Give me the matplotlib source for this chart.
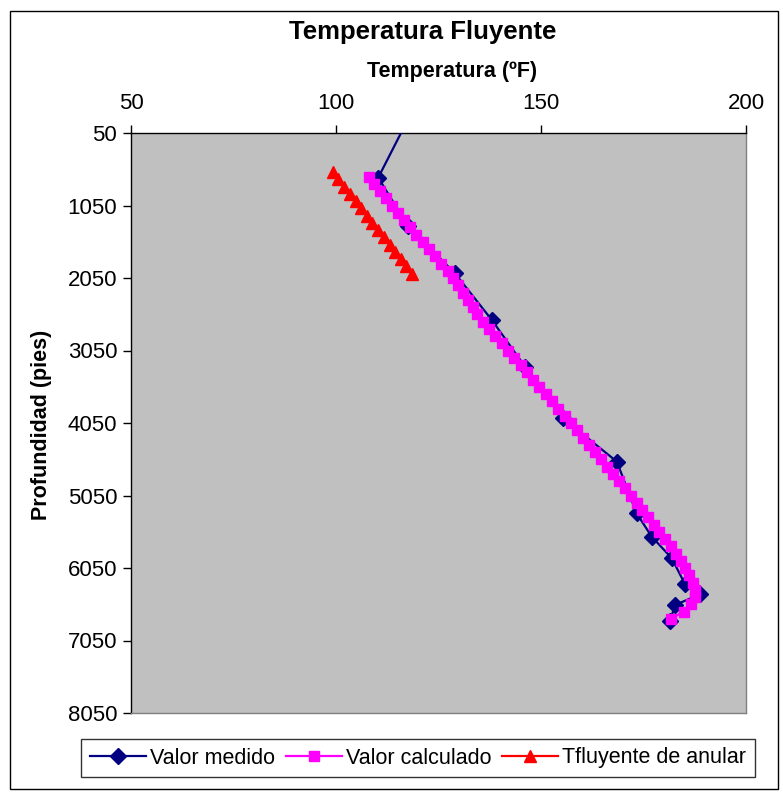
import matplotlib
matplotlib.use("Agg")
import matplotlib.pyplot as plt
from matplotlib.patches import Rectangle

plt.rcParams['font.family'] = ['Liberation Sans', 'DejaVu Sans']

# Measured flowing temperature
medido_prof = [0, 666, 1330, 1985, 2629, 3273, 3985, 4583, 5294, 5617, 5915, 6271, 6413, 6560, 6776]
medido_temp = [116.3, 110.3, 117.5, 129.0, 138.0, 146.1, 155.4, 168.5, 173.3, 177.0, 181.9, 185.1, 188.8, 182.7, 181.5]

# Calculated flowing temperature
calc_prof = [650, 750, 850, 950, 1050, 1150, 1250, 1350, 1450, 1550, 1650, 1750, 1850, 1950,
             2050, 2150, 2250, 2350, 2450, 2550, 2650, 2750, 2850, 2950, 3050, 3150, 3250,
             3350, 3450, 3550, 3650, 3750, 3850, 3950, 4050, 4150, 4250, 4350, 4450, 4550,
             4650, 4750, 4850, 4950, 5050, 5150, 5250, 5350, 5450, 5550, 5650, 5750, 5850,
             5950, 6050, 6150, 6250, 6350, 6450, 6550, 6650, 6750]
calc_temp = [108.0, 109.3, 110.7, 112.2, 113.7, 115.2, 116.6, 118.1, 119.6, 121.1, 122.6, 124.1,
             125.6, 127.2, 128.5, 129.7, 130.9, 132.1, 133.3, 134.5, 135.8, 137.3, 138.9, 140.4,
             141.9, 143.5, 145.0, 146.6, 148.1, 149.6, 151.2, 152.7, 154.2, 155.8, 157.3, 158.8,
             160.3, 161.8, 163.2, 164.7, 166.1, 167.6, 169.0, 170.4, 171.9, 173.3, 174.7, 176.1,
             177.5, 178.9, 180.3, 181.6, 182.9, 184.1, 185.2, 186.2, 187.0, 187.5, 187.5, 186.6,
             184.8, 181.7]

# Annular flowing temperature
anular_prof = [590, 690, 790, 890, 990, 1090, 1190, 1290, 1390, 1490, 1590, 1690, 1790, 1890, 1990]
anular_temp = [99.2, 100.6, 102.0, 103.4, 104.8, 106.2, 107.5, 108.9, 110.3, 111.7, 113.1, 114.4,
               115.8, 117.1, 118.5]

x_ticks = [50, 100, 150, 200]
y_ticks = [50, 1050, 2050, 3050, 4050, 5050, 6050, 7050, 8050]

W, H = 783, 800
fig = plt.figure(figsize=(W / 100, H / 100), dpi=100)
fig.patch.set_facecolor('white')

# outer chart border
fig.add_artist(Rectangle((10 / W, 1 - 789 / H), 768 / W, 778 / H, transform=fig.transFigure,
                         fill=False, edgecolor='black', linewidth=1.0))

ax = fig.add_axes([131 / W, 1 - 713 / H, (746 - 131) / W, (713 - 133) / H])
ax.set_facecolor('#C0C0C0')

# the surface reading sits above the visible depth range: line only, no marker
l1, = ax.plot(medido_temp, medido_prof, color='#000080', linewidth=1.6, marker='D',
              markersize=8.5, markerfacecolor='#000080', markeredgecolor='#000080',
              markevery=list(range(1, len(medido_prof))),
              label='Valor medido', zorder=3)
l2, = ax.plot(calc_temp, calc_prof, color='#FF00FF', linewidth=1.6, marker='s',
              markersize=7.3, markerfacecolor='#FF00FF', markeredgecolor='#FF00FF',
              label='Valor calculado', zorder=4)
l3, = ax.plot(anular_temp, anular_prof, color='#FF0000', linewidth=1.6, marker='^',
              markersize=8.5, markerfacecolor='#FF0000', markeredgecolor='#FF0000',
              label='Tfluyente de anular', zorder=5)

ax.set_xlim(50, 200)
ax.set_ylim(8050, 50)
ax.set_xticks(x_ticks)
ax.set_yticks(y_ticks)
ax.xaxis.tick_top()
ax.tick_params(axis='both', direction='out', length=6, width=1, color='black',
               labelsize=16, pad=4)
ax.tick_params(axis='x', pad=8)

for side in ('top', 'left'):
    ax.spines[side].set_color('black')
    ax.spines[side].set_linewidth(1.0)
for side in ('right', 'bottom'):
    ax.spines[side].set_color('#808080')
    ax.spines[side].set_linewidth(1.0)

fig.text(423 / W, 1 - 32 / H, 'Temperatura Fluyente', ha='center', va='center',
         fontsize=18.5, fontweight='bold')
fig.text(452 / W, 1 - 72 / H, 'Temperatura (ºF)', ha='center', va='center',
         fontsize=15.5, fontweight='bold')
fig.text(42 / W, 1 - 425 / H, 'Profundidad (pies)', ha='center', va='center',
         rotation=90, fontsize=15.5, fontweight='bold')

leg = fig.legend(handles=[l1, l2, l3], loc='center', bbox_to_anchor=(418 / W, 1 - 758 / H),
                 ncol=3, fontsize=15.5, frameon=True, fancybox=False, shadow=False,
                 handlelength=2.6, handletextpad=0.2, columnspacing=0.5,
                 borderpad=0.4, borderaxespad=0)
leg.get_frame().set_edgecolor('black')
leg.get_frame().set_linewidth(1.0)

fig.savefig('out.png', dpi=100, facecolor='white')
